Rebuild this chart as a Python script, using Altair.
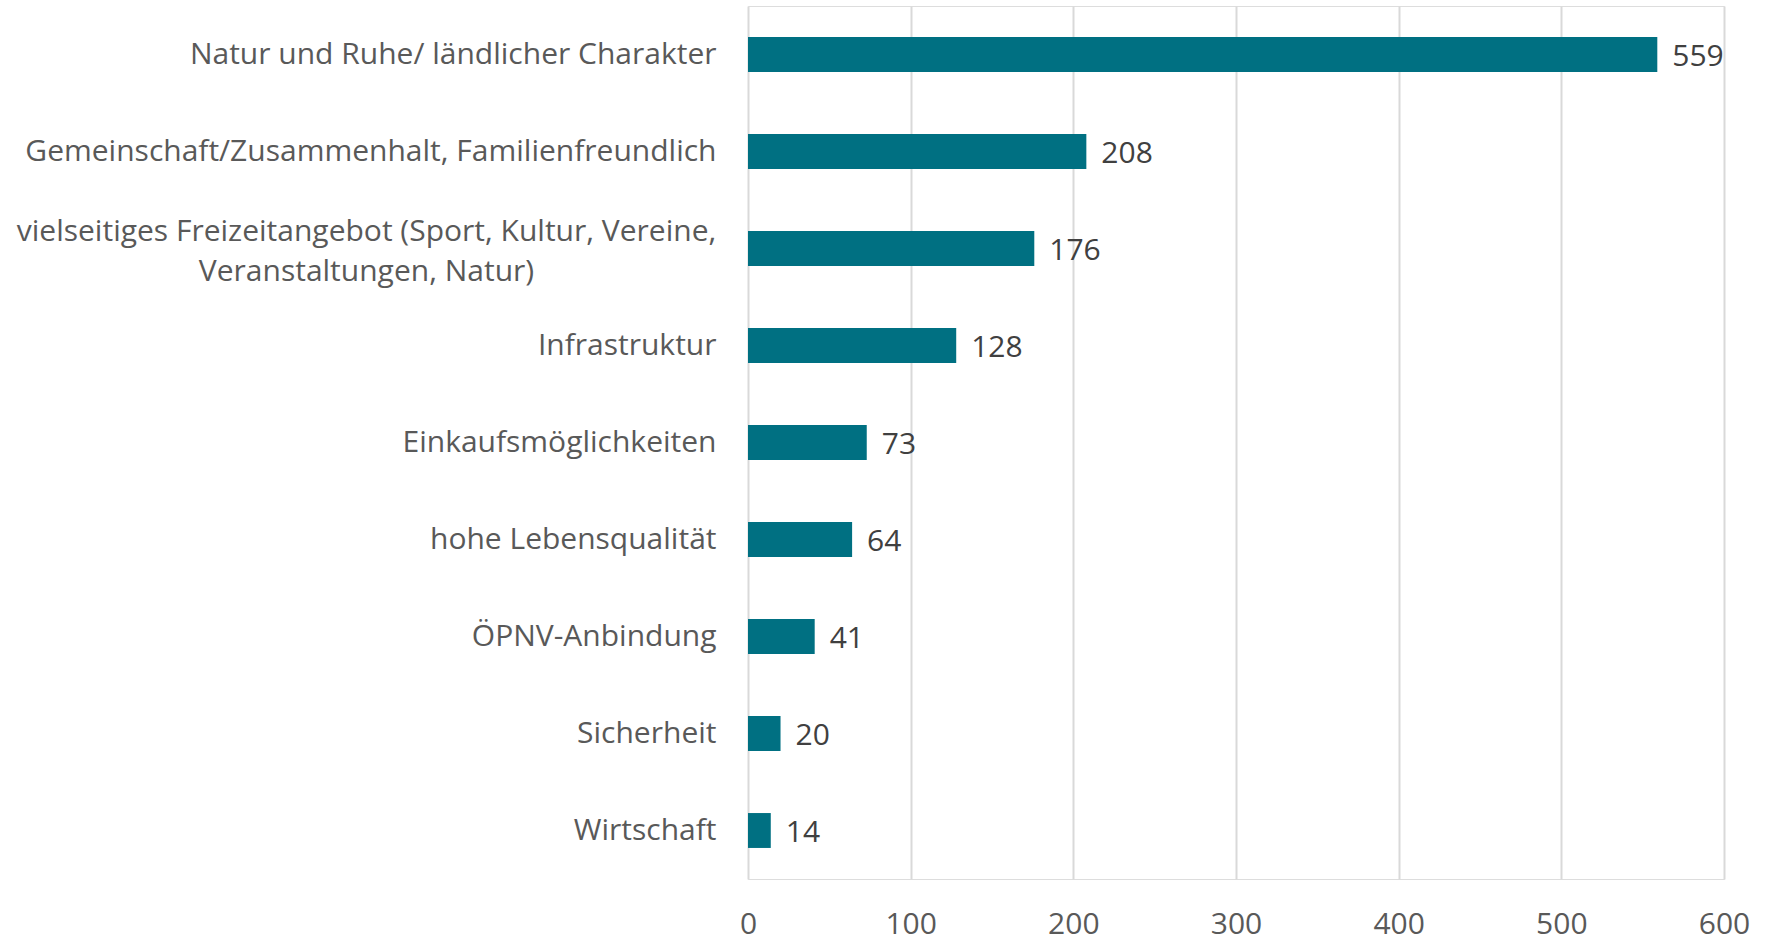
import altair as alt
import pandas as pd

categories = [
    "Natur und Ruhe/ ländlicher Charakter",
    "Gemeinschaft/Zusammenhalt, Familienfreundlich",
    "vielseitiges Freizeitangebot (Sport, Kultur, Vereine,\nVeranstaltungen, Natur)",
    "Infrastruktur",
    "Einkaufsmöglichkeiten",
    "hohe Lebensqualität",
    "ÖPNV-Anbindung",
    "Sicherheit",
    "Wirtschaft",
]
values = [559, 208, 176, 128, 73, 64, 41, 20, 14]
x_ticks = [0, 100, 200, 300, 400, 500, 600]

df = pd.DataFrame({"cat": categories, "val": values})

FONT = "Open Sans"
BAR = "#007082"
FS = 30
MULTI = "indexof(datum.value, '\\n') >= 0"

base = alt.Chart(df).encode(
    y=alt.Y(
        "cat:N",
        sort=categories,
        title=None,
        scale=alt.Scale(paddingInner=0.64, paddingOuter=0.32),
        axis=alt.Axis(
            labelExpr="split(datum.label, '\\n')",
            labelFont=FONT,
            labelFontSize=FS,
            labelColor="#595959",
            labelPadding={"condition": {"test": MULTI, "value": 382}, "value": 32},
            labelAlign={"condition": {"test": MULTI, "value": "center"}, "value": "right"},
            labelLineHeight=40,
            labelLimit=1000,
            labelOffset={"condition": {"test": MULTI, "value": -17}, "value": 0},
            ticks=False,
            domain=False,
            grid=False,
        ),
    ),
    x=alt.X(
        "val:Q",
        title=None,
        scale=alt.Scale(domain=[0, 600], nice=False),
        axis=alt.Axis(
            values=x_ticks,
            labelFont=FONT,
            labelFontSize=FS,
            labelColor="#595959",
            labelPadding=30,
            labelFlush=False,
            labelBound=False,
            labelOverlap=False,
            ticks=False,
            domain=False,
            grid=True,
            gridColor="#d9d9d9",
            gridWidth=2,
        ),
    ),
)

bars = base.mark_bar(color=BAR)
labels = base.mark_text(
    align="left", baseline="middle", dx=15, dy=2, font=FONT, fontSize=FS, color="#404040"
).encode(text="val:Q")

chart = (
    (bars + labels)
    .properties(
        width=976,
        height=873,
        padding={"left": 748, "top": 6, "right": 41, "bottom": 63},
        autosize=alt.AutoSizeParams(type="none"),
    )
    .configure_view(strokeWidth=0)
    .configure(background="white")
)

chart.save("out.html", embed_options={"renderer": "svg", "actions": False})
